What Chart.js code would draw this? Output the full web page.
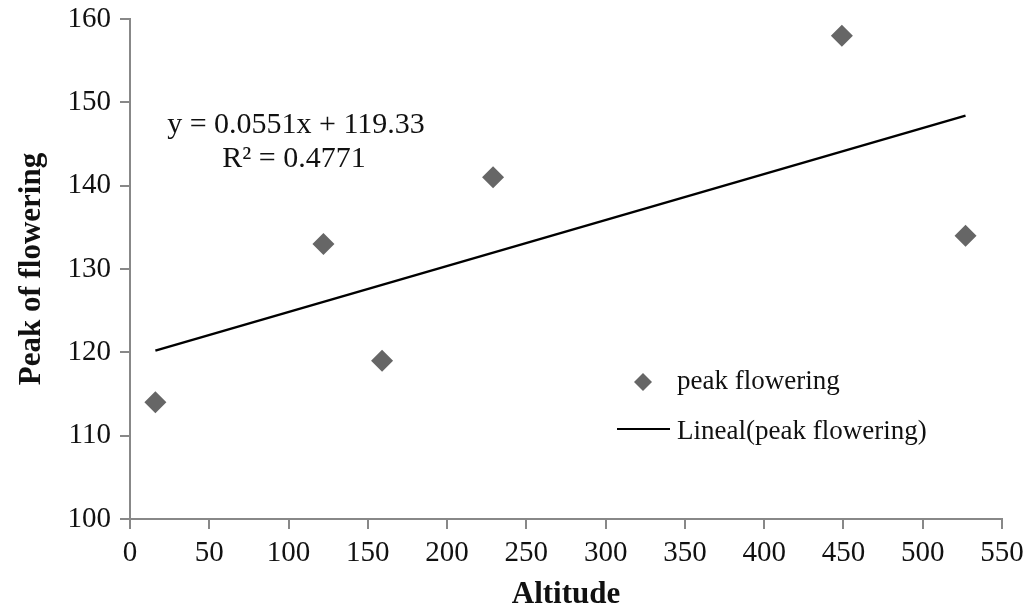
<!DOCTYPE html>
<html>
<head>
<meta charset="utf-8">
<script src="https://cdn.jsdelivr.net/npm/chart.js@4.4.0/dist/chart.umd.min.js"></script>
<style>
  html, body { margin: 0; padding: 0; background: #fff; }
  #wrap { width: 1035px; height: 610px; }
</style>
</head>
<body>
<div id="wrap"><canvas id="chart"></canvas></div>
<script>
// altitude vs peak of flowering
let altitude = [16, 122, 159, 229, 449, 527];
let peakDay = [114, 133, 119, 141, 158, 134];
// trend line ends
let trendX = [16, 527];
let trendY = [120.2, 148.4];
let xTicks = [0, 550, 50];
let yTicks = [100, 160, 10];

let serif = '"Liberation Serif", "Times New Roman", serif';

// equation and legend drawn inside the plot
const notes = {
    id: 'notes',
    afterDraw(chart) {
        let ctx = chart.ctx;
        ctx.save();
        ctx.fillStyle = '#111';
        ctx.textBaseline = 'alphabetic';
        ctx.font = '30px ' + serif;
        ctx.textAlign = 'center';
        ctx.fillText('y = 0.0551x + 119.33', 296, 133);
        ctx.fillText('R² = 0.4771', 294, 167);

        // legend
        ctx.textAlign = 'left';
        ctx.textBaseline = 'middle';
        ctx.font = '27px ' + serif;
        ctx.fillStyle = '#666';
        ctx.beginPath();
        ctx.moveTo(643, 373); ctx.lineTo(652, 382); ctx.lineTo(643, 391); ctx.lineTo(634, 382);
        ctx.closePath();
        ctx.fill();
        ctx.fillStyle = '#111';
        ctx.fillText('peak flowering', 677, 382);
        ctx.strokeStyle = '#000';
        ctx.lineWidth = 2;
        ctx.beginPath();
        ctx.moveTo(617, 429); ctx.lineTo(670, 429);
        ctx.stroke();
        ctx.fillText('Lineal(peak flowering)', 677, 432);
        ctx.restore();
    }
};

let ctx = document.getElementById('chart').getContext('2d');
let chart = new Chart(ctx, {
    type: 'scatter',
    data: {
        datasets: [{
            label: 'peak flowering',
            data: altitude.map((a, i) => ({x: a, y: peakDay[i]})),
            pointStyle: 'rectRot',
            pointRadius: 11,
            pointHoverRadius: 11,
            backgroundColor: '#666',
            borderColor: '#666',
            borderWidth: 0
        }, {
            type: 'line',
            label: 'Lineal(peak flowering)',
            data: trendX.map((a, i) => ({x: a, y: trendY[i]})),
            borderColor: '#000',
            borderWidth: 2.5,
            pointRadius: 0,
            fill: false
        }]
    },
    options: {
        responsive: true,
        maintainAspectRatio: false,
        animation: false,
        layout: { padding: { top: 19, right: 33, left: 0, bottom: 0 } },
        plugins: {
            legend: { display: false },
            tooltip: { enabled: false }
        },
        scales: {
            x: {
                type: 'linear',
                min: xTicks[0], max: xTicks[1],
                ticks: { stepSize: xTicks[2], color: '#111', font: { family: serif, size: 29 }, padding: 7 },
                grid: { drawOnChartArea: false, tickLength: 10, color: '#888', lineWidth: 2 },
                border: { color: '#888', width: 2 },
                title: { display: true, text: 'Altitude', color: '#111', font: { family: serif, size: 31, weight: 'bold', lineHeight: 1.0 }, padding: { top: 0, bottom: 0 } },
                afterFit(scale) { scale.height = 91; scale.paddingLeft = 0; scale.paddingRight = 0; }
            },
            y: {
                min: yTicks[0], max: yTicks[1],
                ticks: { stepSize: yTicks[2], color: '#111', font: { family: serif, size: 29 }, padding: 9 },
                grid: { drawOnChartArea: false, tickLength: 10, color: '#888', lineWidth: 2 },
                border: { color: '#888', width: 2 },
                title: { display: true, text: 'Peak of flowering', color: '#111', font: { family: serif, size: 31, weight: 'bold' }, padding: { top: 13, bottom: 0 } },
                afterFit(scale) { scale.width = 130; scale.paddingTop = 0; scale.paddingBottom = 0; }
            }
        }
    },
    plugins: [notes]
});
</script>
</body>
</html>
